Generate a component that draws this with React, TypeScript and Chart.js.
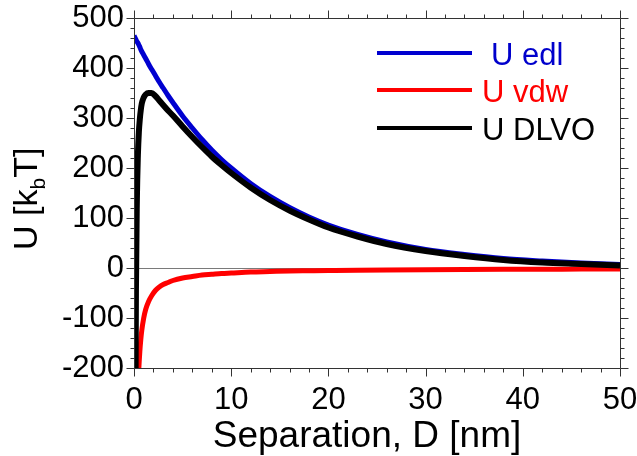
import React, { useEffect, useRef } from 'react';
import { Chart, registerables } from 'chart.js';

Chart.register(...registerables);

// Separation D [nm]
const separation = [0, 0.1, 0.2, 0.3, 0.4, 0.5, 0.6, 0.7, 0.8, 1.0, 1.2, 1.5, 1.8, 2.2, 2.6, 3, 3.5, 4, 5, 6, 7, 8, 9, 10, 12, 14, 16, 18, 20, 23, 26, 30, 34, 38, 42, 46, 50];
// U edl [kbT]
const uEdl = [465, 461, 457, 453, 450, 446, 442, 437, 433, 426, 419, 408, 398, 385, 372, 360, 345, 331, 304, 280, 257, 236, 217, 200, 169, 143, 121, 102, 86, 67, 52, 37, 27, 19, 14, 10, 7];
// U vdw [kbT]
const uVdw = [null, -1000, -500, -333, -250, -200, -167, -143, -125, -100, -83, -67, -56, -45, -38, -33, -29, -25, -20, -17, -14, -12.5, -11, -10, -8, -7, -6, -5.5, -5, -4.3, -3.8, -3.3, -2.9, -2.6, -2.4, -2.2, -2];
// U DLVO [kbT]
const uDlvo = [null, -539, -43, 140, 225, 272, 298, 316, 329, 341, 347, 350, 350, 344, 335, 326, 315, 305, 283, 262, 242, 223, 206, 190, 161, 136, 115, 97, 81, 63, 48, 34, 24, 16, 11, 8, 5];

const seriesNames = ['U edl', 'U vdw', 'U DLVO'];
const seriesColors = ['#0000d0', '#ff0000', '#000000'];
const legendTextColors = ['#0000cc', '#ff0000', '#000000'];

const xMin = 0, xMax = 50, xMajor = 10, xMinor = 2;
const yMin = -200, yMax = 500, yMajor = 100, yMinor = 20;

const xTitle = 'Separation, D [nm]';
const yTitleMain = 'U [k';
const yTitleSub = 'b';
const yTitleEnd = 'T]';

const FONT = '"Liberation Sans", Arial, sans-serif';

const decorPlugin = {
  id: 'decor',
  beforeDatasetsDraw(chart: any) {
    const { ctx, chartArea } = chart;
    const y0 = Math.round(chart.scales.y.getPixelForValue(0)) + 0.5;
    ctx.save();
    ctx.strokeStyle = '#7a7a7a';
    ctx.lineWidth = 1;
    ctx.beginPath();
    ctx.moveTo(chartArea.left, y0);
    ctx.lineTo(chartArea.right, y0);
    ctx.stroke();
    ctx.restore();
  },
  afterDraw(chart: any) {
    const { ctx, chartArea } = chart;
    const xs = chart.scales.x;
    const ys = chart.scales.y;
    const L = Math.round(chartArea.left) + 0.5;
    const R = Math.round(chartArea.right) + 0.5;
    const T = Math.round(chartArea.top) + 0.5;
    const B = Math.round(chartArea.bottom) + 0.5;
    ctx.save();
    ctx.strokeStyle = '#333333';
    ctx.lineWidth = 1;
    ctx.beginPath();
    ctx.rect(L, T, R - L, B - T);
    ctx.stroke();
    ctx.beginPath();
    for (let v = xMin; v <= xMax + 1e-9; v += xMinor) {
      const major = Math.abs(v / xMajor - Math.round(v / xMajor)) < 1e-6;
      const len = major ? 8 : 4;
      const px = Math.round(xs.getPixelForValue(v)) + 0.5;
      ctx.moveTo(px, B); ctx.lineTo(px, B + len);
      ctx.moveTo(px, T); ctx.lineTo(px, T - len);
    }
    for (let v = yMin; v <= yMax + 1e-9; v += yMinor) {
      const major = Math.abs(v / yMajor - Math.round(v / yMajor)) < 1e-6;
      const len = major ? 8 : 4;
      const py = Math.round(ys.getPixelForValue(v)) + 0.5;
      ctx.moveTo(L, py); ctx.lineTo(L - len, py);
      ctx.moveTo(R, py); ctx.lineTo(R + len, py);
    }
    ctx.stroke();

    // x title
    ctx.fillStyle = '#000';
    ctx.font = `37px ${FONT}`;
    ctx.textAlign = 'center';
    ctx.textBaseline = 'alphabetic';
    ctx.fillText(xTitle, (chartArea.left + chartArea.right) / 2 - 10, 447);

    // y title (rotated, with subscript)
    ctx.save();
    ctx.translate(37, 250);
    ctx.rotate(-Math.PI / 2);
    ctx.textAlign = 'left';
    ctx.font = `34px ${FONT}`;
    ctx.fillText(yTitleMain, 0, 0);
    let x = ctx.measureText(yTitleMain).width;
    ctx.font = `21px ${FONT}`;
    ctx.fillText(yTitleSub, x, 8);
    x += ctx.measureText(yTitleSub).width;
    ctx.font = `34px ${FONT}`;
    ctx.fillText(yTitleEnd, x, 0);
    ctx.restore();

    // legend
    const rows = [65, 102, 140];
    const textX = [491, 482, 482];
    ctx.font = `31px ${FONT}`;
    ctx.textAlign = 'left';
    ctx.textBaseline = 'alphabetic';
    seriesNames.forEach((name, i) => {
      ctx.strokeStyle = seriesColors[i];
      ctx.lineWidth = 4;
      ctx.beginPath();
      ctx.moveTo(377, rows[i] - 12);
      ctx.lineTo(472, rows[i] - 12);
      ctx.stroke();
      ctx.fillStyle = legendTextColors[i];
      ctx.fillText(name, textX[i], rows[i]);
    });
    ctx.restore();
  },
};

const zeroPad = (s: any) => {
  s.paddingLeft = 0;
  s.paddingRight = 0;
  s.paddingTop = 0;
  s.paddingBottom = 0;
};

export default function App() {
  const ref = useRef<HTMLCanvasElement>(null);
  useEffect(() => {
    document.body.style.margin = '0';
    const canvas = ref.current!;
    const mk = (vals: (number | null)[]) => separation.map((d, i) => ({ x: d, y: vals[i] }));
    const seriesValues = [uEdl, uVdw, uDlvo];
    const widths = [5, 5, 6];
    const orders = [3, 2, 1];
    const chart = new Chart(canvas, {
      type: 'line',
      data: {
        datasets: seriesNames.map((name, i) => ({
          label: name,
          data: mk(seriesValues[i]),
          borderColor: seriesColors[i],
          backgroundColor: seriesColors[i],
          borderWidth: widths[i],
          pointRadius: 0,
          cubicInterpolationMode: 'monotone',
          fill: false,
          order: orders[i],
          clip: 0,
        })),
      },
      options: {
        responsive: false,
        animation: false,
        layout: { autoPadding: false, padding: { left: 0, top: 18, right: 17, bottom: 0 } },
        plugins: { legend: { display: false }, tooltip: { enabled: false } },
        scales: {
          x: {
            type: 'linear',
            min: xMin,
            max: xMax,
            grid: { display: false, drawTicks: false },
            border: { display: false },
            ticks: { stepSize: xMajor, padding: 14, color: '#000', font: { family: FONT, size: 31 }, maxRotation: 0 },
            afterFit: (s: any) => { s.height = 88; zeroPad(s); },
          },
          y: {
            type: 'linear',
            min: yMin,
            max: yMax,
            grid: { display: false, drawTicks: false },
            border: { display: false },
            ticks: { stepSize: yMajor, padding: 10, color: '#000', font: { family: FONT, size: 31 } },
            afterFit: (s: any) => { s.width = 134; zeroPad(s); },
          },
        },
      } as any,
      plugins: [decorPlugin],
    });
    return () => chart.destroy();
  }, []);
  return <canvas ref={ref} width={637} height={456} style={{ display: 'block' }} />;
}
